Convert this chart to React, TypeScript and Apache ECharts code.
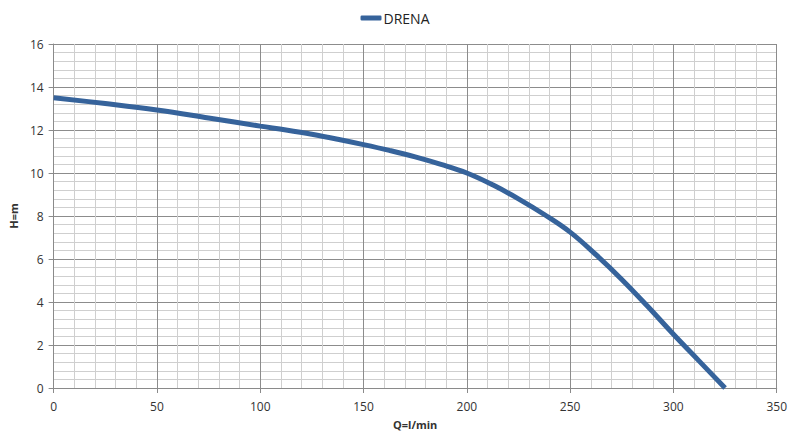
import React, { useEffect, useRef } from "react";
import * as echarts from "echarts";

const seriesName = "DRENA";
const flowQ = [0, 25, 50, 75, 100, 112.5, 125, 137.5, 150, 162.5, 175, 187.5, 200, 212.5, 225, 237.5, 250, 262.5, 275, 287.5, 300, 312.5, 325];
const headH = [13.5, 13.23, 12.93, 12.56, 12.18, 12.0, 11.8, 11.57, 11.32, 11.05, 10.75, 10.4, 10.0, 9.45, 8.8, 8.07, 7.25, 6.2, 5.05, 3.8, 2.5, 1.25, 0];
const xName = "Q=l/min";
const yName = "H=m";

export default function App() {
  const ref = useRef<HTMLDivElement>(null);
  useEffect(() => {
    if (!ref.current) return;
    const chart = echarts.init(ref.current, undefined, { renderer: "svg" });
    const font = "'Open Sans', 'Liberation Sans', sans-serif";
    const data = flowQ.map((q, i) => [q, headH[i]]);
    chart.setOption({
      animation: false,
      backgroundColor: "#ffffff",
      textStyle: { fontFamily: font },
      legend: {
        top: 6,
        left: "center",
        data: [seriesName],
        itemWidth: 21,
        itemHeight: 5,
        itemGap: 4,
        icon: "roundRect",
        textStyle: { fontFamily: font, fontSize: 14, color: "#222", padding: [0, 0, 0, -3] },
      },
      grid: { left: 52, right: 11, top: 44, bottom: 44, containLabel: false },
      xAxis: {
        type: "value",
        min: 0,
        max: 350,
        interval: 50,
        name: xName,
        nameLocation: "middle",
        nameGap: 31,
        nameTextStyle: { fontWeight: "bold", fontSize: 11, color: "#333", fontFamily: font },
        axisLine: { show: true, lineStyle: { color: "#8a8a8a", width: 1 } },
        axisTick: { show: true, length: 5, lineStyle: { color: "#8a8a8a" } },
        axisLabel: { fontSize: 12, color: "#333", margin: 12, fontFamily: font },
        splitLine: { show: true, lineStyle: { color: "#8c8c8c", width: 1 } },
        minorTick: { show: false, splitNumber: 5 },
        minorSplitLine: { show: true, lineStyle: { color: "#cfcfcf", width: 1 } },
      },
      yAxis: {
        type: "value",
        min: 0,
        max: 16,
        interval: 2,
        name: yName,
        nameLocation: "middle",
        nameGap: 32,
        nameRotate: 90,
        nameTextStyle: { fontWeight: "bold", fontSize: 11, color: "#333", fontFamily: font },
        axisLine: { show: true, lineStyle: { color: "#8a8a8a", width: 1 } },
        axisTick: { show: true, length: 5, lineStyle: { color: "#8a8a8a" } },
        axisLabel: { fontSize: 12, color: "#333", margin: 10, fontFamily: font },
        splitLine: { show: true, lineStyle: { color: "#8c8c8c", width: 1 } },
        minorTick: { show: false, splitNumber: 5 },
        minorSplitLine: { show: true, lineStyle: { color: "#cfcfcf", width: 1 } },
      },
      series: [
        {
          name: seriesName,
          type: "line",
          data,
          smooth: 0.4,
          showSymbol: false,
          symbol: "none",
          lineStyle: { color: "#36639b", width: 5 },
          itemStyle: { color: "#36639b" },
        },
      ],
    });
    return () => chart.dispose();
  }, []);
  return (
    <div
      ref={ref}
      style={{ position: "fixed", left: 0, top: 0, width: 790, height: 435 }}
    />
  );
}
